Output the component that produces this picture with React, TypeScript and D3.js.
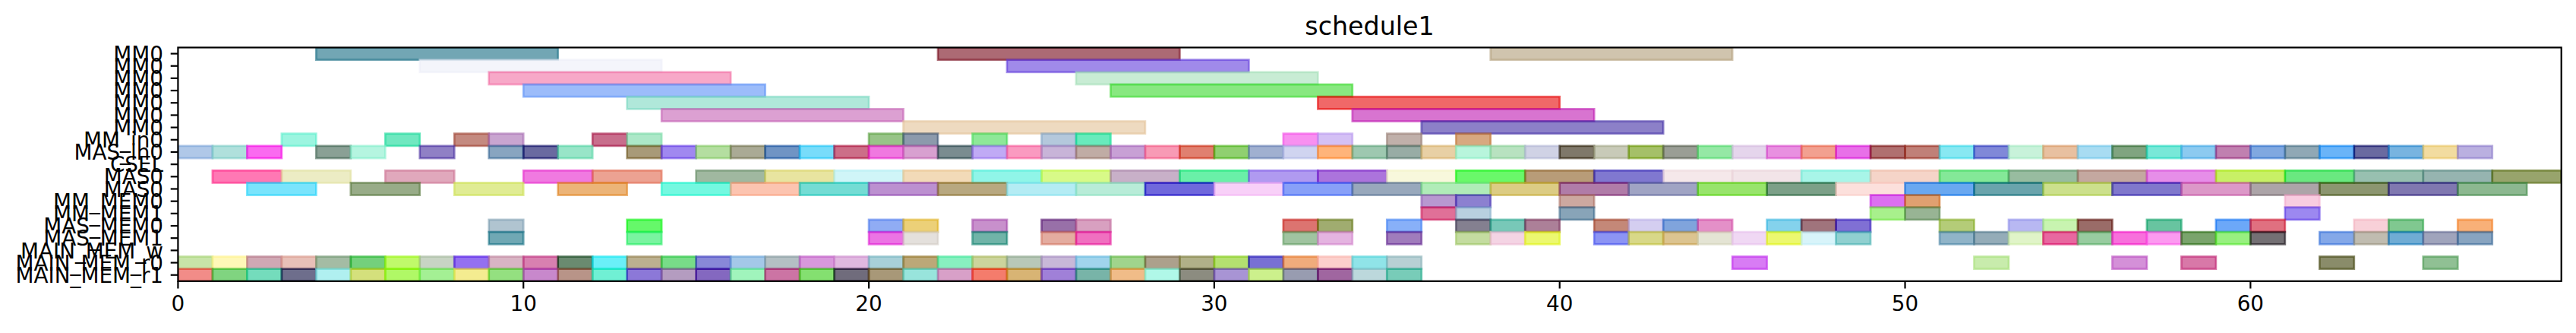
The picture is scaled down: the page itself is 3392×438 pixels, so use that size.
import React from 'react';
import * as d3 from 'd3';

// ---------------- data ----------------
const chartTitle = 'schedule1';
const rowLabels = [
  'MM0', 'MM0', 'MM0', 'MM0', 'MM0', 'MM0', 'MM0',
  'MM_in0', 'MAS_in0', 'CSEL', 'MAS0', 'MAS0',
  'MM_MEM0', 'MM_MEM1', 'MAS_MEM0', 'MAS_MEM1',
  'MAIN_MEM_w', 'MAIN_MEM_r0', 'MAIN_MEM_r1',
];
const xTicks = [0, 10, 20, 30, 40, 50, 60];
const xDomain = [0, 69];

// [start, end] of each task, one array per row (top to bottom)
const mm0Row0: [number, number][] = [[4, 11], [22, 29], [38, 45]];
const mm0Row1: [number, number][] = [[7, 14], [24, 31]];
const mm0Row2: [number, number][] = [[9, 16], [26, 33]];
const mm0Row3: [number, number][] = [[10, 17], [27, 34]];
const mm0Row4: [number, number][] = [[13, 20], [33, 40]];
const mm0Row5: [number, number][] = [[14, 21], [34, 41]];
const mm0Row6: [number, number][] = [[21, 28], [36, 43]];
const mmIn0: [number, number][] = [[3, 4], [6, 7], [8, 9], [9, 10], [12, 13], [13, 14], [20, 21], [21, 22], [23, 24], [25, 26], [26, 27], [32, 33], [33, 34], [35, 36], [37, 38]];
const masIn0: [number, number][] = [
  [0, 1], [1, 2], [2, 3], [4, 5], [5, 6], [7, 8], [9, 10], [10, 11], [11, 12],
  [13, 14], [14, 15], [15, 16], [16, 17], [17, 18], [18, 19], [19, 20], [20, 21], [21, 22], [22, 23], [23, 24], [24, 25],
  [25, 26], [26, 27], [27, 28], [28, 29], [29, 30], [30, 31], [31, 32], [32, 33], [33, 34], [34, 35], [35, 36], [36, 37],
  [37, 38], [38, 39], [39, 40], [40, 41], [41, 42], [42, 43], [43, 44], [44, 45], [45, 46], [46, 47], [47, 48], [48, 49],
  [49, 50], [50, 51], [51, 52], [52, 53], [53, 54], [54, 55], [55, 56], [56, 57], [57, 58], [58, 59], [59, 60], [60, 61],
  [61, 62], [62, 63], [63, 64], [64, 65], [65, 66], [66, 67],
];
const csel: [number, number][] = [];
const mas0a: [number, number][] = [
  [1, 3], [3, 5], [6, 8], [10, 12], [12, 14], [15, 17], [17, 19], [19, 21], [21, 23], [23, 25], [25, 27], [27, 29],
  [29, 31], [31, 33], [33, 35], [35, 37], [37, 39], [39, 41], [41, 43], [43, 45], [45, 47], [47, 49], [49, 51], [51, 53],
  [53, 55], [55, 57], [57, 59], [59, 61], [61, 63], [63, 65], [65, 67], [67, 69],
];
const mas0b: [number, number][] = [
  [2, 4], [5, 7], [8, 10], [11, 13], [14, 16], [16, 18], [18, 20], [20, 22], [22, 24], [24, 26], [26, 28], [28, 30],
  [30, 32], [32, 34], [34, 36], [36, 38], [38, 40], [40, 42], [42, 44], [44, 46], [46, 48], [48, 50], [50, 52], [52, 54],
  [54, 56], [56, 58], [58, 60], [60, 62], [62, 64], [64, 66], [66, 68],
];
const mmMem0: [number, number][] = [[36, 37], [37, 38], [40, 41], [49, 50], [50, 51], [61, 62]];
const mmMem1: [number, number][] = [[36, 37], [37, 38], [40, 41], [49, 50], [50, 51], [61, 62]];
const masMem0: [number, number][] = [
  [9, 10], [13, 14], [20, 21], [21, 22], [23, 24], [25, 26], [26, 27], [32, 33], [33, 34], [35, 36], [37, 38], [38, 39],
  [39, 40], [41, 42], [42, 43], [43, 44], [44, 45], [46, 47], [47, 48], [48, 49], [51, 52], [53, 54], [54, 55], [55, 56],
  [57, 58], [59, 60], [60, 61], [63, 64], [64, 65], [66, 67],
];
const masMem1: [number, number][] = [
  [9, 10], [13, 14], [20, 21], [21, 22], [23, 24], [25, 26], [26, 27], [32, 33], [33, 34], [35, 36], [37, 38], [38, 39],
  [39, 40], [41, 42], [42, 43], [43, 44], [44, 45], [45, 46], [46, 47], [47, 48], [48, 49], [51, 52], [52, 53], [53, 54],
  [54, 55], [55, 56], [56, 57], [57, 58], [58, 59], [59, 60], [60, 61], [62, 63], [63, 64], [64, 65], [65, 66], [66, 67],
];
const mainMemW: [number, number][] = [];
const mainMemR0: [number, number][] = [
  [0, 1], [1, 2], [2, 3], [3, 4], [4, 5], [5, 6], [6, 7], [7, 8], [8, 9], [9, 10], [10, 11], [11, 12],
  [12, 13], [13, 14], [14, 15], [15, 16], [16, 17], [17, 18], [18, 19], [19, 20], [20, 21], [21, 22], [22, 23], [23, 24],
  [24, 25], [25, 26], [26, 27], [27, 28], [28, 29], [29, 30], [30, 31], [31, 32], [32, 33], [33, 34], [34, 35], [35, 36],
  [45, 46], [52, 53], [56, 57], [58, 59], [62, 63], [65, 66],
];
const mainMemR1: [number, number][] = [
  [0, 1], [1, 2], [2, 3], [3, 4], [4, 5], [5, 6], [6, 7], [7, 8], [8, 9], [9, 10], [10, 11], [11, 12],
  [12, 13], [13, 14], [14, 15], [15, 16], [16, 17], [17, 18], [18, 19], [19, 20], [20, 21], [21, 22], [22, 23], [23, 24],
  [24, 25], [25, 26], [26, 27], [27, 28], [28, 29], [29, 30], [30, 31], [31, 32], [32, 33], [33, 34], [34, 35], [35, 36],
];

// colour of each task as it appears on the white page (same order as the spans)
const mm0Row0Colors = ['#72a6b4', '#ac6a74', '#d0c4ae'];
const mm0Row1Colors = ['#f4f5fb', '#a08aea'];
const mm0Row2Colors = ['#f7a8c8', '#c8ecd4'];
const mm0Row3Colors = ['#9cbcfa', '#88e880'];
const mm0Row4Colors = ['#b0e8da', '#f06868'];
const mm0Row5Colors = ['#dca0d2', '#d874d0'];
const mm0Row6Colors = ['#eedac0', '#8c80c8'];
const mmIn0Colors = ['#9cf5e0', '#70e8c0', '#c48a80', '#c9a5d0', '#c86e8c', '#ace8c8', '#98c488', '#8c9aac', '#8ee898', '#b4c8dc', '#68ebbc', '#f890f0', '#d4c0f5', '#c0b0aa', '#d8a880'];
const masIn0Colors = [
  '#b0c8e8', '#b0e0dc', '#fa6af0', '#8aa095', '#b5f5e0', '#9080c5', '#88a5c0', '#6a6aa0', '#98e5c8',
  '#a89a78', '#a088f0', '#b4dea0', '#aaaa95', '#7094c4', '#78dcfa', '#cc6e88', '#f078e0', '#d8a0d0', '#7a8c90', '#c0aaf5', '#fa9ac0',
  '#c8b4d8', '#c0aca5', '#c8a0d5', '#f89ab5', '#e08070', '#90d070', '#a0b0d0', '#d0d4f0', '#ffb47a', '#9ec8b0', '#98aca5', '#e8d0a5',
  '#b8f5dc', '#b8e2c0', '#d0d2e5', '#7f786a', '#c8cab8', '#a5c068', '#9a9e95', '#95e8a5', '#e5d5ec', '#e890e0', '#f2a090', '#e870e8',
  '#b07070', '#c08078', '#88e8f2', '#8088d8', '#c8f2da', '#e8c0a0', '#a8dcf2', '#80a480', '#78e8d8', '#8ccaf0', '#c080b0', '#80a8e0',
  '#90a8b5', '#6ab4f8', '#6a6aa0', '#78b4e0', '#f2dca0', '#bab0e0',
];
const cselColors: string[] = [];
const mas0aColors = [
  '#ff78b4', '#ececc4', '#e0a8bc', '#f07ae0', '#eca292', '#a0b8a0', '#e8e4a0', '#d0f5f8', '#f2dab8', '#90f5e8', '#d8fa88', '#c8b0c8',
  '#6af0a8', '#b09af0', '#ac74dc', '#f8f8dc', '#6af86a', '#b89c78', '#8078d0', '#f5e8ea', '#f2e4e8', '#a8f5e8', '#f5d4c8', '#84e898',
  '#98bca0', '#c4a8a0', '#e68ee8', '#c8f064', '#6ae880', '#98c0b0', '#96b4b0', '#98a46c',
];
const mas0bColors = [
  '#7ae4fc', '#98ac88', '#e0ec94', '#ecb478', '#74f8e0', '#fcc4b0', '#74dcd4', '#bc90d0', '#b8a880', '#b4ecf4', '#b8ecd8', '#7068dc',
  '#f8d0f8', '#88a0f8', '#98a8bc', '#b0ecb8', '#dccc84', '#b07ca8', '#a0a4c4', '#98e46c', '#7ca088', '#fce0dc', '#6aa8f0', '#6aa4ac',
  '#cce08c', '#8078cc', '#dc98c8', '#aca4a8', '#8c9670', '#8078b0', '#8cb890',
];
const mmMem0Colors = ['#b898d0', '#8c80d0', '#cca8a0', '#dc70f0', '#e0a070', '#f8cce0'];
const mmMem1Colors = ['#e07098', '#b8d0e0', '#88a4b8', '#a8f08c', '#98b494', '#9c88f0'];
const masMem0Colors = [
  '#b0c4d0', '#66f86a', '#90acf4', '#ecd078', '#c890cc', '#9870a8', '#d8a0c0', '#dc7470', '#a0ac70', '#88b0f8', '#848090', '#78c8b8',
  '#ac8098', '#c48878', '#d4cef0', '#80a4dc', '#e490c8', '#84d2ec', '#a0747c', '#8070d4', '#b4cc78', '#b8b8f2', '#c8f4b0', '#9a6c68',
  '#68c4a0', '#6ca8f8', '#e07080', '#f8d0d8', '#80c890', '#f8b078',
];
const masMem1Colors = [
  '#70a8b4', '#7af4a0', '#ec74e4', '#e4e0dc', '#70b4a8', '#e4aca0', '#f070c0', '#a0c4a0', '#e4b4e0', '#a07cbc', '#c4dca0', '#f4d4e4',
  '#ecf870', '#8c94f4', '#d8d888', '#dcc490', '#e4e4d4', '#f0d8f4', '#ecf870', '#d8f4fa', '#90d0d0', '#90b4c8', '#94acb8', '#e0f4c8',
  '#e868a0', '#98cca0', '#f870dc', '#fc9af0', '#7aa46c', '#98f080', '#747074', '#84a8e8', '#c0bcb0', '#70acd4', '#a0a4bc', '#88a4c0',
];
const mainMemWColors: string[] = [];
const mainMemR0Colors = [
  '#c8e4a8', '#fff8b8', '#d0a8b4', '#e8c0b8', '#a4bca4', '#74d07c', '#c0fa6a', '#c8d4c4', '#9470f0', '#d8b4c4', '#d880b0', '#6a8a70',
  '#6af0f8', '#bcb090', '#78dc88', '#8888d8', '#a4c8e8', '#b4c0c4', '#d898dc', '#e0b8e0', '#a8d0d8', '#bca878', '#88f0c0', '#ccd49c',
  '#b8c8b8', '#c8b8d8', '#a0d4ec', '#a0d48c', '#aca08c', '#b0b088', '#b4e070', '#7870d4', '#f0ac7c', '#fcd0cc', '#90e4e8', '#b8d0d4',
  '#d87cf4', '#c8ecac', '#d490d8', '#d878a8', '#8a8c6a', '#90c094',
];
const mainMemR1Colors = [
  '#f28c88', '#80d480', '#74dcbc', '#6e6e8c', '#b0f0f0', '#d4e07c', '#b0f864', '#a4f094', '#f4ec90', '#94e080', '#c888cc', '#b89488',
  '#70f0d4', '#8c78d8', '#b49cc0', '#8468c0', '#a0f4bc', '#cc74a4', '#84e070', '#706c7c', '#a89878', '#98e4dc', '#d8a0c8', '#f47c6c',
  '#d8b474', '#a080d8', '#78b4a8', '#f0bc88', '#b0f8e8', '#8c8c80', '#a894d4', '#ccf08c', '#989cb0', '#a064a0', '#bcd8dc', '#78ccb8',
];

const rowSpans = [mm0Row0, mm0Row1, mm0Row2, mm0Row3, mm0Row4, mm0Row5, mm0Row6, mmIn0, masIn0, csel, mas0a, mas0b, mmMem0, mmMem1, masMem0, masMem1, mainMemW, mainMemR0, mainMemR1];
const rowColors = [mm0Row0Colors, mm0Row1Colors, mm0Row2Colors, mm0Row3Colors, mm0Row4Colors, mm0Row5Colors, mm0Row6Colors, mmIn0Colors, masIn0Colors, cselColors, mas0aColors, mas0bColors, mmMem0Colors, mmMem1Colors, masMem0Colors, masMem1Colors, mainMemWColors, mainMemR0Colors, mainMemR1Colors];

// ---------------- drawing ----------------
const W = 3392;
const H = 438;
const ALPHA = 0.6;
const FONT = '"DejaVu Sans", Verdana, sans-serif';

// base colour that gives the observed colour when painted at ALPHA on white
function baseColor(seen: string): string {
  const c = d3.rgb(seen);
  const f = (v: number) => Math.max(0, Math.min(255, Math.round((v - 255 * (1 - ALPHA)) / ALPHA)));
  return d3.rgb(f(c.r), f(c.g), f(c.b)).formatHex();
}

export default function App() {
  const plotLeft = 234.4;
  const plotRight = 3372.7;
  const plotTop = 62.5;
  const plotBottom = 369.8;
  const x = d3.scaleLinear().domain(xDomain).range([plotLeft, plotRight]);
  const y = d3.scaleLinear().domain([-0.5, rowLabels.length - 0.5]).range([plotTop, plotBottom]);
  const tickLen = 9.7;
  const tickPad = 9.7;
  const fontSize = 27.8;

  const bars: JSX.Element[] = [];
  rowSpans.forEach((spans, r) => {
    spans.forEach(([s, e], i) => {
      const col = baseColor(rowColors[r][i]);
      bars.push(
        <rect
          key={`b-${r}-${i}`}
          x={x(s)}
          y={y(r - 0.5)}
          width={x(e) - x(s)}
          height={y(r + 0.5) - y(r - 0.5)}
          fill={col}
          fillOpacity={ALPHA}
          stroke={col}
          strokeOpacity={ALPHA}
          strokeWidth={2.7}
        />
      );
    });
  });

  return (
    <svg
      width={W}
      height={H}
      viewBox={`0 0 ${W} ${H}`}
      style={{ position: 'absolute', left: 0, top: 0, display: 'block', background: '#fff' }}
    >
      <rect x={0} y={0} width={W} height={H} fill="#fff" />
      <defs>
        <clipPath id="plotClip">
          <rect x={plotLeft} y={plotTop} width={plotRight - plotLeft} height={plotBottom - plotTop} />
        </clipPath>
      </defs>
      <g clipPath="url(#plotClip)">{bars}</g>

      {/* spines */}
      <rect
        x={plotLeft}
        y={plotTop}
        width={plotRight - plotLeft}
        height={plotBottom - plotTop}
        fill="none"
        stroke="#000"
        strokeWidth={2.2}
      />

      {/* x ticks */}
      {xTicks.map((t) => (
        <g key={`xt-${t}`}>
          <line x1={x(t)} x2={x(t)} y1={plotBottom} y2={plotBottom + tickLen} stroke="#000" strokeWidth={2.2} />
          <text
            x={x(t)}
            y={plotBottom + tickLen + tickPad + 0.76 * fontSize - 1.5}
            textAnchor="middle"
            fontFamily={FONT}
            fontSize={fontSize}
            fill="#000"
          >
            {t}
          </text>
        </g>
      ))}

      {/* y ticks */}
      {rowLabels.map((lab, r) => (
        <g key={`yt-${r}`}>
          <line x1={plotLeft - tickLen} x2={plotLeft} y1={y(r)} y2={y(r)} stroke="#000" strokeWidth={2.2} />
          <text
            x={plotLeft - tickLen - tickPad}
            y={y(r) + 0.365 * fontSize}
            textAnchor="end"
            fontFamily={FONT}
            fontSize={fontSize}
            fill="#000"
          >
            {lab}
          </text>
        </g>
      ))}

      <text
        x={(plotLeft + plotRight) / 2}
        y={45.8}
        textAnchor="middle"
        fontFamily={FONT}
        fontSize={33.3}
        fill="#000"
      >
        {chartTitle}
      </text>
    </svg>
  );
}
